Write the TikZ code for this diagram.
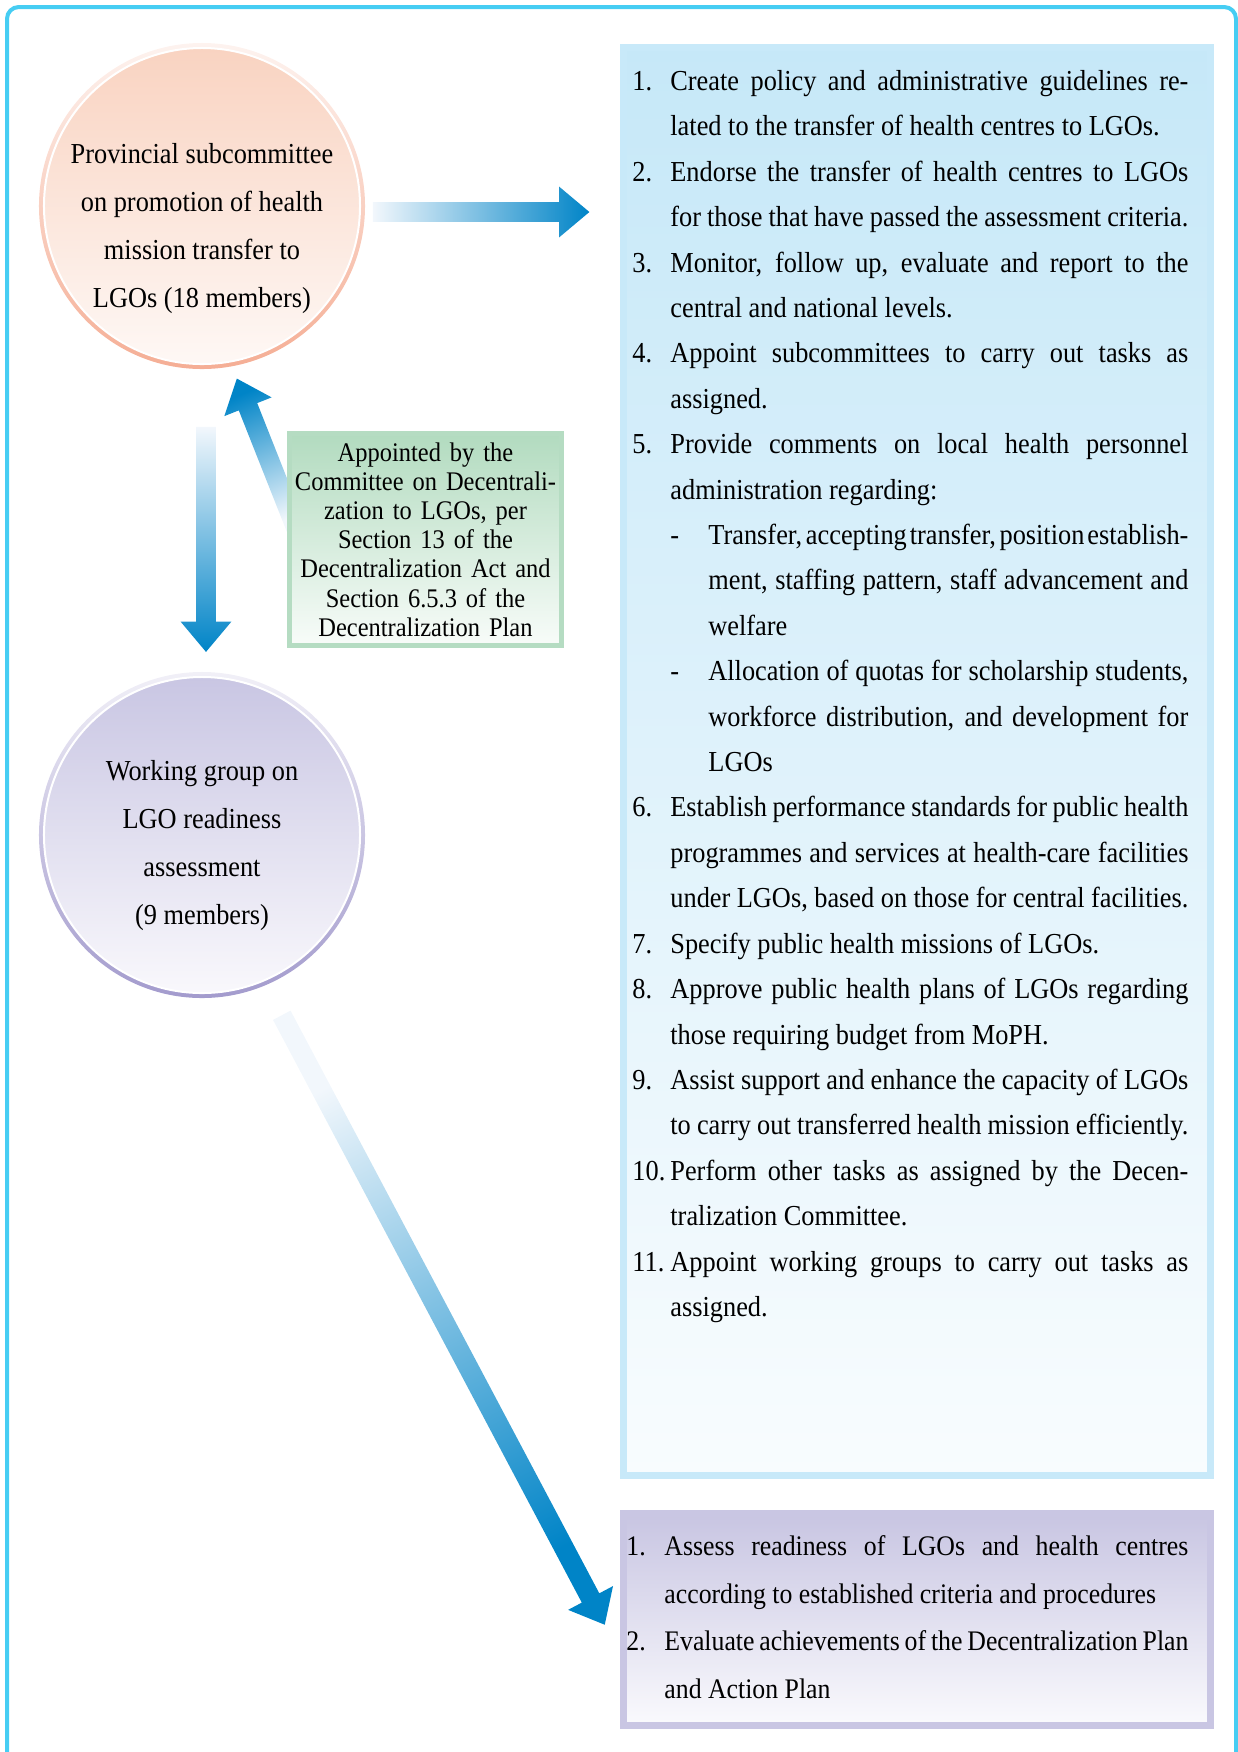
\documentclass[tikz,border=0pt]{standalone}
\usepackage{fontspec}
\setmainfont{Liberation Serif}[FakeStretch=0.91, WordSpace={1,1,1.8}]
\usetikzlibrary{positioning,calc,shapes.arrows,backgrounds}

\newlength\pxu
\setlength\pxu{0.017cm}
\hfuzz=20pt

\definecolor{framecyan}{HTML}{46CDF3}
\definecolor{arrowblue}{HTML}{0084C7}
\definecolor{arrowtail}{HTML}{F2F7FC}
\definecolor{dutytop}{HTML}{C6E8F8}
\definecolor{dutybot}{HTML}{F8FCFE}
\definecolor{dutyedge}{HTML}{C8E9F9}
\definecolor{roletop}{HTML}{C8C5E2}
\definecolor{rolebot}{HTML}{FAFAFD}
\definecolor{roleedge}{HTML}{C9C6E3}
\definecolor{appttop}{HTML}{B2DBBF}
\definecolor{apptbot}{HTML}{F8FCF9}
\definecolor{apptedge}{HTML}{B5DCC2}
\definecolor{provtop}{HTML}{F9D3C1}
\definecolor{provbot}{HTML}{FEF8F5}
\definecolor{provring}{HTML}{F5AE95}
\definecolor{wgtop}{HTML}{C9C6E3}
\definecolor{wgbot}{HTML}{F9F8FC}
\definecolor{wgring}{HTML}{A39BCD}

\newcommand{\listfont}{\fontsize{14pt}{21.96pt}\selectfont}
\newcommand{\rolefont}{\fontsize{13.7pt}{23.07pt}\selectfont}
\newcommand{\circfont}{\fontsize{14pt}{23.2pt}\selectfont}
\newcommand{\apptfont}{\fontsize{13pt}{14.12pt}\selectfont}

\newcommand{\jline}[3][518]{\makebox[38\pxu][l]{#2}\makebox[#1\pxu][s]{#3}}
\newcommand{\rline}[2]{\makebox[38\pxu][l]{#1}#2}
\newcommand{\jsub}[2]{\hspace*{38\pxu}\makebox[38\pxu][l]{#1}\makebox[480\pxu][s]{#2}}
\newcommand{\rsub}[2]{\hspace*{38\pxu}\makebox[38\pxu][l]{#1}#2}

\begin{document}
\begin{tikzpicture}[
    x=0.017cm, y=-0.017cm,
    committee/.style={circle, minimum size=5.372cm, inner sep=0pt, draw=white, line width=0.034cm},
    committeetext/.style={anchor=north, align=center, inner sep=0pt, font=\circfont},
    panel/.style={rectangle, inner sep=0pt, minimum width=9.97cm, line width=0.119cm},
    tasklist/.style={anchor=north west, inner sep=0pt, align=flush left, font=\listfont},
    flow/.style={single arrow, sloped, allow upside down, midway, inner xsep=0pt, inner ysep=0.1615cm, single arrow head extend=0.2635cm, single arrow tip angle=80, single arrow head indent=0pt, top color=arrowblue, bottom color=arrowtail},
]

\useasboundingbox (0,0) rectangle (1238,1752);
\draw [framecyan, line width=0.068cm, rounded corners=0.2cm] (7,7) rectangle (1236,1800);

\node (prov) [committee, top color=provtop, bottom color=provbot] at (202,206) {};
\node (provtext) [committeetext] at (202,143) {Provincial subcommittee\\ on promotion of health\\ mission transfer to\\ LGOs (18 members)};

\node (wg) [committee, top color=wgtop, bottom color=wgbot] at (202,835) {};
\node (wgtext) [committeetext] at (202,760) {Working group on\\ LGO readiness\\ assessment\\ (9 members)};

\node (duties) [panel, minimum height=24.276cm, top color=dutytop, bottom color=dutybot, draw=dutyedge] at (916.75,761.5) {};
\node (dutylist) [tasklist, text width=9.452cm] at (632,70) {%
\jline{1.}{Create policy and administrative guidelines re-}\\
\rline{}{lated to the transfer of health centres to LGOs.}\\
\jline{2.}{Endorse the transfer of health centres to LGOs}\\
\jline{}{for those that have passed the assessment criteria.}\\
\jline{3.}{Monitor, follow up, evaluate and report to the}\\
\rline{}{central and national levels.}\\
\jline{4.}{Appoint subcommittees to carry out tasks as}\\
\rline{}{assigned.}\\
\jline{5.}{Provide comments on local health personnel}\\
\rline{}{administration regarding:}\\
\jsub{-}{Transfer, accepting transfer, position establish-}\\
\jsub{}{ment, staffing pattern, staff advancement and}\\
\rsub{}{welfare}\\
\jsub{-}{Allocation of quotas for scholarship students,}\\
\jsub{}{workforce distribution, and development for}\\
\rsub{}{LGOs}\\
\jline{6.}{Establish performance standards for public health}\\
\jline{}{programmes and services at health-care facilities}\\
\jline{}{under LGOs, based on those for central facilities.}\\
\rline{7.}{Specify public health missions of LGOs.}\\
\jline{8.}{Approve public health plans of LGOs regarding}\\
\rline{}{those requiring budget from MoPH.}\\
\jline{9.}{Assist support and enhance the capacity of LGOs}\\
\jline{}{to carry out transferred health mission efficiently.}\\
\jline{10.}{Perform other tasks as assigned by the Decen-}\\
\rline{}{tralization Committee.}\\
\jline{11.}{Appoint working groups to carry out tasks as}\\
\rline{}{assigned.}};

\node (roles) [panel, minimum height=3.604cm, top color=roletop, bottom color=rolebot, draw=roleedge] at (916.75,1619.5) {};
\node (rolelist) [tasklist, text width=9.554cm, font=\rolefont] at (626,1535) {%
\jline[524]{1.}{Assess readiness of LGOs and health centres}\\
\rline{}{according to established criteria and procedures}\\
\jline[524]{2.}{Evaluate achievements of the Decentralization Plan}\\
\rline{}{and Action Plan}};

\node (appt) [rectangle, inner sep=0pt, minimum width=4.624cm, minimum height=3.604cm, text width=4.556cm, align=center, font=\apptfont, top color=appttop, bottom color=apptbot, draw=apptedge, line width=0.085cm] at (425.5,539.5) {Appointed by the\\ Committee on Decentrali-\\ zation to LGOs, per\\ Section 13 of the\\ Decentralization Act and\\ Section 6.5.3 of the\\ Decentralization Plan};

\coordinate (provtail) at ($(prov.east)+(6,6)$);
\coordinate (provtip) at ($(duties.west |- provtail)+(-36.5,0)$);
\coordinate (downtail) at ($(prov.south)+(4,56)$);
\coordinate (downtip) at ($(wg.north)+(4,-30)$);
\coordinate (uptail) at ($(appt.west)+(12,-4)$);
\coordinate (uptip) at ($(prov.south)+(37,19)$);
\coordinate (diagtail) at ($(wg.south)+(77,16)$);
\coordinate (diagtip) at ($(roles.west)+(-18,0)$);

\path let \p1=($(provtip)-(provtail)$), \n1={veclen(\x1,\y1)} in (provtail) -- (provtip) node [flow, minimum height=\n1, shading angle=-90] {};
\path let \p1=($(downtip)-(downtail)$), \n1={veclen(\x1,\y1)} in (downtail) -- (downtip) node [flow, minimum height=\n1, shading angle=180] {};
\path let \p1=($(diagtip)-(diagtail)$), \n1={veclen(\x1,\y1)} in (diagtail) -- (diagtip) node [flow, minimum height=\n1, shading angle=-151.9] {};

\begin{scope}[on background layer]
\shade [top color=provring!15, bottom color=provring] (prov.center) circle (2.771cm);
\shade [top color=wgring!15, bottom color=wgring] (wg.center) circle (2.771cm);
\path let \p1=($(uptip)-(uptail)$), \n1={veclen(\x1,\y1)} in (uptail) -- (uptip) node [flow, minimum height=\n1, shading angle=22.3] {};
\end{scope}

\end{tikzpicture}
\end{document}
